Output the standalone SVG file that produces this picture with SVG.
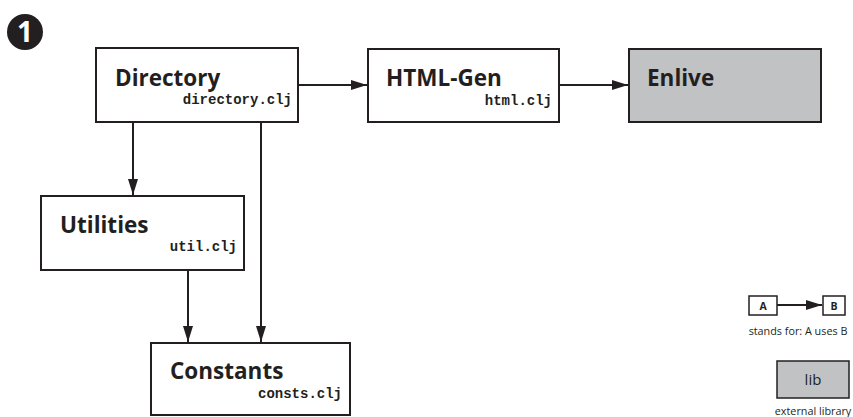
<svg xmlns="http://www.w3.org/2000/svg" width="853" height="417" viewBox="0 0 853 417">
<style>
.box{fill:#fff;stroke:#231f20;stroke-width:2}
.lib{fill:#c1c2c4;stroke:#231f20;stroke-width:2}
.t{font-family:"Open Sans","Noto Sans",sans-serif;font-weight:bold;font-size:22.5px;fill:#231f20}
.m{font-family:"Liberation Mono",monospace;font-weight:bold;font-size:14px;fill:#231f20;text-anchor:end}
.c{stroke:#231f20;stroke-width:2;fill:none}
.s{font-family:"Open Sans","Noto Sans",sans-serif;font-size:10.8px;fill:#231f20;text-anchor:middle}
.lt{font-family:"Open Sans","Noto Sans",sans-serif;font-weight:bold;font-size:10.5px;fill:#231f20;text-anchor:middle}
</style>
<defs>
<marker id="ah" viewBox="0 0 16 10" refX="16" refY="5" markerWidth="16" markerHeight="10" markerUnits="userSpaceOnUse" orient="auto">
<path d="M0,0 L16,5 L0,10 Z" fill="#231f20"/>
</marker>
</defs>
<g id="badge">
<circle cx="25" cy="32" r="18" fill="#231f20"/>
<text x="25" y="42" font-family="Open Sans, sans-serif" font-weight="bold" font-size="28" fill="#fff" text-anchor="middle">1</text>
</g>
<g id="connectors">
<line class="c" x1="298" y1="85" x2="367" y2="85" marker-end="url(#ah)"/>
<line class="c" x1="559" y1="85" x2="628" y2="85" marker-end="url(#ah)"/>
<line class="c" x1="133" y1="122" x2="133" y2="195" marker-end="url(#ah)"/>
<line class="c" x1="261" y1="122" x2="261" y2="342" marker-end="url(#ah)"/>
<line class="c" x1="188" y1="270" x2="188" y2="342" marker-end="url(#ah)"/>
<line class="c" x1="777" y1="305" x2="822" y2="305" marker-end="url(#ah)"/>
</g>
<g id="directory">
<rect class="box" x="96" y="48" width="202" height="74"/>
<text class="t" x="115" y="86">Directory</text>
<text class="m" x="292" y="104">directory.clj</text>
</g>
<g id="htmlgen">
<rect class="box" x="368" y="49" width="191" height="73"/>
<text class="t" x="386" y="86">HTML-Gen</text>
<text class="m" x="552" y="105">html.clj</text>
</g>
<g id="enlive">
<rect class="lib" x="629" y="49" width="192" height="73"/>
<text class="t" x="647" y="86">Enlive</text>
</g>
<g id="utilities">
<rect class="box" x="41" y="196" width="203" height="74"/>
<text class="t" x="60" y="233">Utilities</text>
<text class="m" x="237" y="251">util.clj</text>
</g>
<g id="constants">
<rect class="box" x="151" y="343" width="199" height="72"/>
<text class="t" x="170" y="379">Constants</text>
<text class="m" x="342" y="398">consts.clj</text>
</g>
<g id="legend">
<rect class="box" x="749" y="296" width="28" height="19" style="stroke-width:1.5"/>
<text class="lt" x="763" y="309.5">A</text>
<rect class="box" x="823" y="296" width="22" height="19" style="stroke-width:1.5"/>
<text class="lt" x="834" y="309.5">B</text>
<text class="s" x="798" y="335">stands for: A uses B</text>
<rect class="lib" x="777" y="361" width="72" height="37" style="stroke-width:1.5"/>
<text x="813" y="385" font-family="Open Sans, sans-serif" font-size="15" text-anchor="middle" fill="#231f20">lib</text>
<text class="s" x="813" y="415">external library</text>
</g>
</svg>
